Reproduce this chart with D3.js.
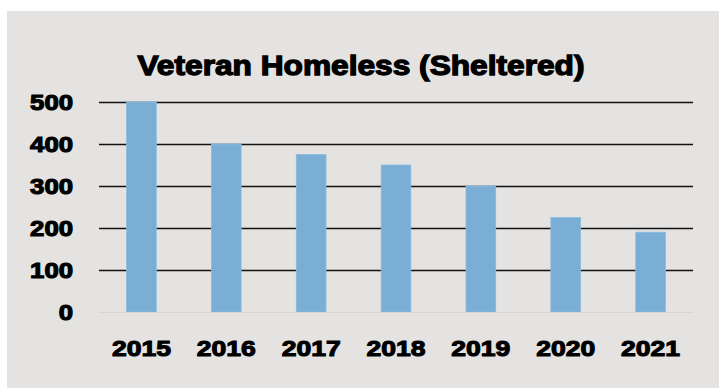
<!DOCTYPE html>
<html><head><meta charset="utf-8">
<script src="https://cdn.jsdelivr.net/npm/d3@7"></script>
<style>
html,body{margin:0;padding:0;background:#fff;}
svg{display:block;}
text{font-family:"Liberation Sans",Arial,sans-serif;font-weight:bold;fill:#000;}
</style></head>
<body>
<script>
const categories = ["2015","2016","2017","2018","2019","2020","2021"];
const values = [500, 400, 375, 350, 300, 225, 190];
const yTicks = [0, 100, 200, 300, 400, 500];
const title = "Veteran Homeless (Sheltered)";

const W = 719, H = 388;
const svg = d3.select("body").append("svg").attr("width", W).attr("height", H);

svg.append("rect").attr("x", 7).attr("y", 11).attr("width", W - 7).attr("height", H - 11).attr("fill", "#e4e3e2");

const x = d3.scaleBand().domain(categories).range([99, 693]).paddingInner(0.65).paddingOuter(0.325);
const y = d3.scaleLinear().domain([0, 500]).range([312, 102]);

// gridlines
svg.append("g").selectAll("line").data(yTicks.filter(d => d > 0)).join("line")
  .attr("x1", 99).attr("x2", 693)
  .attr("y1", d => Math.round(y(d)) + 0.5).attr("y2", d => Math.round(y(d)) + 0.5)
  .attr("stroke", "#111").attr("stroke-width", 1.3);

// bars
svg.append("g").selectAll("rect").data(values).join("rect")
  .attr("x", (d, i) => x(categories[i]))
  .attr("y", d => y(d))
  .attr("width", x.bandwidth())
  .attr("height", d => y(0) - y(d))
  .attr("fill", "#7aaed5")
  .attr("stroke", "#8dbbdc").attr("stroke-width", 0.8);

// zero line
svg.append("line").attr("x1", 99).attr("x2", 693).attr("y1", 312.5).attr("y2", 312.5)
  .attr("stroke", "#d6d6d6").attr("stroke-width", 1);

// y axis labels
const yAxis = d3.axisLeft(y).tickValues(yTicks).tickSize(0).tickPadding(0);
const gy = svg.append("g").attr("transform", "translate(73,0)").call(yAxis);
gy.select(".domain").remove();
gy.selectAll("text")
  .attr("font-size", 21.5).attr("dy", "0.36em")
  .style("font-family", "Liberation Sans, Arial, sans-serif").style("font-weight", "bold")
  .attr("stroke", "#000").attr("stroke-width", 1.1).attr("fill", "#000")
  .attr("textLength", d => String(d).length * 14.3).attr("lengthAdjust", "spacingAndGlyphs");

// x axis labels
const xAxis = d3.axisBottom(x).tickSize(0).tickPadding(0);
const gx = svg.append("g").attr("transform", "translate(0,355.5)").call(xAxis);
gx.select(".domain").remove();
gx.selectAll("text")
  .attr("font-size", 22.5).attr("dy", 0).attr("y", 0)
  .style("font-family", "Liberation Sans, Arial, sans-serif").style("font-weight", "bold")
  .attr("stroke", "#000").attr("stroke-width", 1.1).attr("fill", "#000")
  .attr("textLength", 59).attr("lengthAdjust", "spacingAndGlyphs");

// title
svg.append("text").attr("x", 361).attr("y", 75).attr("text-anchor", "middle")
  .attr("font-size", 27.5)
  .attr("stroke", "#000").attr("stroke-width", 1.3)
  .attr("textLength", 447).attr("lengthAdjust", "spacingAndGlyphs")
  .text(title);
</script>
</body></html>
